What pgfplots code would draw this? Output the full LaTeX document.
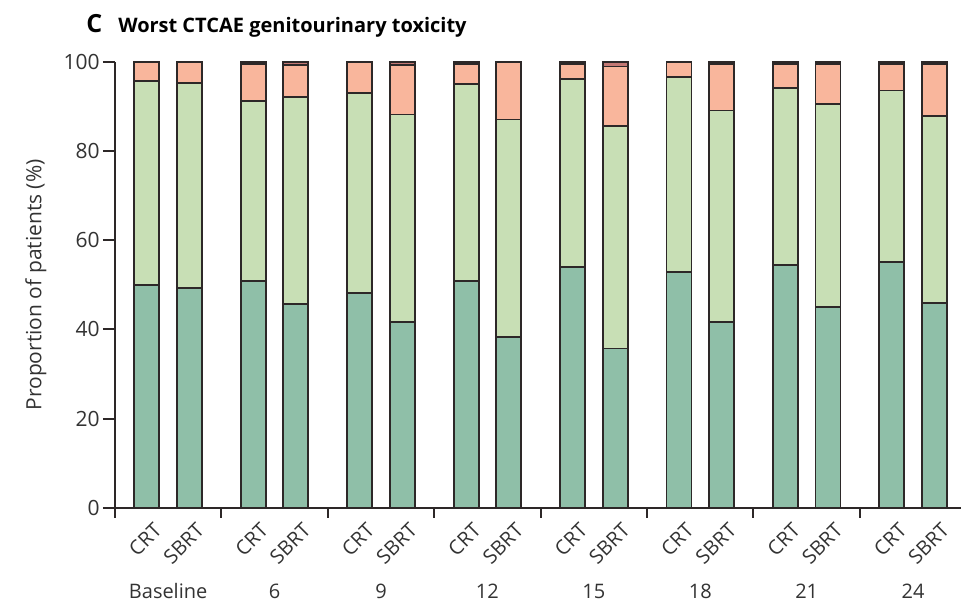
\documentclass[border=0pt]{standalone}
\usepackage{fontspec}
\setmainfont{Open Sans}
\usepackage{pgfplots}
\pgfplotsset{compat=1.18}
\usepackage{pgfplotstable}

\definecolor{gzero}{RGB}{143,191,168}
\definecolor{gone}{RGB}{200,223,181}
\definecolor{gtwo}{RGB}{249,182,156}
\definecolor{gthree}{RGB}{196,120,116}
\definecolor{edge}{RGB}{45,40,40}

% worst genitourinary toxicity grade, % of patients per arm and month
\pgfplotstableread{
x    g0   g1   g2   g3
0.30 50.0 45.7 4.3  0
0.70 49.3 45.9 4.8  0
1.30 50.9 40.4 8.2  0.5
1.70 45.7 46.5 7.1  0.7
2.30 48.2 44.9 6.9  0
2.70 41.6 46.6 11.2 0.6
3.30 50.9 44.2 4.4  0.5
3.70 38.3 48.8 12.9 0
4.30 54.0 42.2 3.3  0.5
4.70 35.7 50.0 13.3 1.0
5.30 52.9 43.8 3.3  0
5.70 41.6 47.5 10.4 0.5
6.30 54.5 39.6 5.4  0.5
6.70 45.1 45.4 9.1  0.4
7.30 55.2 38.4 5.9  0.5
7.70 46.0 41.9 11.7 0.4
}\gutox

\begin{document}
\begin{tikzpicture}[font=\fontsize{10pt}{12pt}\selectfont]
\useasboundingbox (-57.5pt,-49pt) rectangle (423.3pt,254pt);
\begin{axis}[
  at={(0,0)}, anchor=south west,
  scale only axis, width=423.3pt, height=223pt,
  xmin=0, xmax=7.95, ymin=0, ymax=100,
  clip=false,
  ybar stacked, bar width=12.5pt,
  axis x line*=bottom, axis y line*=left,
  axis line style={-, line width=1pt, draw=edge},
  tick align=outside, major tick length=6pt,
  tick style={line width=1pt, draw=edge},
  ytick={0,20,...,100},
  /pgf/number format/assume math mode=true,
  yticklabel style={inner sep=1.5pt, text=black!80, font=\fontsize{10.5pt}{12pt}\selectfont},
  xtick={0.3,0.7,1.3,1.7,2.3,2.7,3.3,3.7,4.3,4.7,5.3,5.7,6.3,6.7,7.3,7.7},
  xticklabels={CRT,SBRT,CRT,SBRT,CRT,SBRT,CRT,SBRT,CRT,SBRT,CRT,SBRT,CRT,SBRT,CRT,SBRT},
  xtick style={draw=none},
  xticklabel style={xshift=8pt, yshift=-1pt, rotate=45, anchor=east, text=black!80},
  ylabel={Proportion of patients (\%)},
  ylabel style={at={(axis description cs:-0.0933,0.5)}, anchor=center, text=black!80,
                font=\fontsize{10.5pt}{12pt}\selectfont},
  every axis plot/.append style={draw=edge, line width=0.9pt},
]
\addplot[fill=gzero] table[x=x, y=g0] {\gutox};
\addplot[fill=gone] table[x=x, y=g1] {\gutox};
\addplot[fill=gtwo] table[x=x, y=g2] {\gutox};
\addplot[fill=gthree] table[x=x, y=g3] {\gutox};

% group separators below the baseline
\pgfplotsinvokeforeach{0,...,7}{
  \draw[edge, line width=1pt] (axis cs:#1,0) -- ++(0pt,-5pt);
}

\node[anchor=base, text=black!80] at (axis cs:0.5,0) [yshift=-45.5pt] {Baseline};
\node[anchor=base, text=black!80] at (axis cs:1.5,0) [yshift=-45.5pt] {6};
\node[anchor=base, text=black!80] at (axis cs:2.5,0) [yshift=-45.5pt] {9};
\node[anchor=base, text=black!80] at (axis cs:3.5,0) [yshift=-45.5pt] {12};
\node[anchor=base, text=black!80] at (axis cs:4.5,0) [yshift=-45.5pt] {15};
\node[anchor=base, text=black!80] at (axis cs:5.5,0) [yshift=-45.5pt] {18};
\node[anchor=base, text=black!80] at (axis cs:6.5,0) [yshift=-45.5pt] {21};
\node[anchor=base, text=black!80] at (axis cs:7.5,0) [yshift=-45.5pt] {24};
\end{axis}
\node[anchor=base west, inner sep=0pt, font=\fontsize{12.5pt}{14pt}\selectfont\bfseries] at (-14.5pt,237.5pt) {C};
\node[anchor=base west, inner sep=0pt, font=\fontsize{10pt}{12pt}\selectfont\bfseries] at (1.5pt,237.5pt) {Worst CTCAE genitourinary toxicity};
\end{tikzpicture}
\end{document}
